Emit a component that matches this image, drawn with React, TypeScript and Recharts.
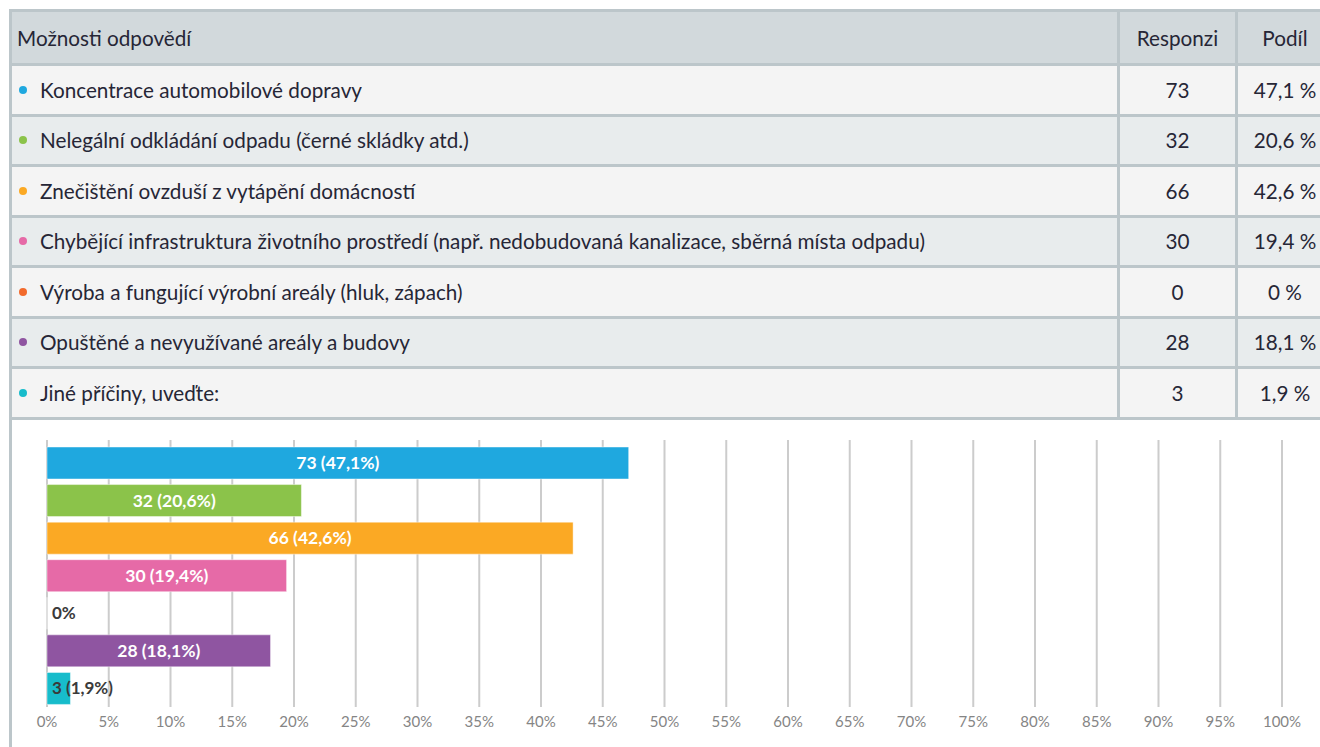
import React from 'react';
import { BarChart, Bar, XAxis, YAxis, CartesianGrid, LabelList, Cell } from 'recharts';

const answers = [
  'Koncentrace automobilové dopravy',
  'Nelegální odkládání odpadu (černé skládky atd.)',
  'Znečištění ovzduší z vytápění domácností',
  'Chybějící infrastruktura životního prostředí (např. nedobudovaná kanalizace, sběrná místa odpadu)',
  'Výroba a fungující výrobní areály (hluk, zápach)',
  'Opuštěné a nevyužívané areály a budovy',
  'Jiné příčiny, uveďte:',
];
const counts = [73, 32, 66, 30, 0, 28, 3];
const shares = [47.1, 20.6, 42.6, 19.4, 0, 18.1, 1.9];
const colors = ['#1fa8df', '#8bc34a', '#fba924', '#e66aa7', '#f26a2c', '#8f55a1', '#17bccb'];
const xTicks = [0, 5, 10, 15, 20, 25, 30, 35, 40, 45, 50, 55, 60, 65, 70, 75, 80, 85, 90, 95, 100];
const yMarks = [0.45, 3, 5.55];

const FONT = 'Lato, "Noto Sans", sans-serif';
const BORDER = '#bcc6ca';
const TEXT = '#262636';

const fmt = (v: number) => v.toFixed(1).replace('.', ',').replace(',0', '');

const data = answers.map((name, i) => ({
  name,
  share: shares[i],
  count: counts[i],
  color: colors[i],
  label: counts[i] === 0 ? '0%' : `${counts[i]} (${fmt(shares[i])}%)`,
}));

const BarLabel = (props: any) => {
  const { x, y, width, height, value } = props;
  const cy = y + height / 2;
  if (width < 95) {
    return (
      <text x={x + 5} y={cy} dy={6} fontSize={17} fontWeight={700} fill="#3a3a3a" fontFamily={FONT}>
        {value}
      </text>
    );
  }
  return (
    <text x={x + width / 2} y={cy} dy={6} textAnchor="middle" fontSize={17.5} fontWeight={700} fill="#fff" fontFamily={FONT}>
      {value}
    </text>
  );
};

const cell: React.CSSProperties = {
  display: 'flex',
  alignItems: 'center',
  boxSizing: 'border-box',
};

export default function App() {
  return (
    <div
      style={{
        position: 'absolute',
        left: 0,
        top: 0,
        width: 1320,
        height: 747,
        overflow: 'hidden',
        background: '#fff',
        fontFamily: FONT,
        color: TEXT,
      }}
    >
      <div
        style={{
          position: 'absolute',
          left: 9,
          top: 9,
          width: 1340,
          borderLeft: `3px solid ${BORDER}`,
          borderTop: `3px solid ${BORDER}`,
        }}
      >
        <div style={{ display: 'flex', height: 51, background: '#d2d9dc', borderBottom: `3px solid ${BORDER}`, fontSize: 20.7 }}>
          <div style={{ ...cell, width: 1105, paddingLeft: 5 }}>Možnosti odpovědí</div>
          <div style={{ ...cell, width: 118, borderLeft: `3px solid ${BORDER}`, justifyContent: 'center' }}>Responzi</div>
          <div style={{ ...cell, width: 97, borderLeft: `3px solid ${BORDER}`, justifyContent: 'center' }}>Podíl</div>
        </div>
        {data.map((d, i) => (
          <div
            key={d.name}
            style={{
              display: 'flex',
              height: 50.5,
              boxSizing: 'border-box',
              background: i % 2 === 0 ? '#f4f4f4' : '#e8eced',
              borderBottom: `3px solid ${BORDER}`,
              fontSize: 20.7,
            }}
          >
            <div style={{ ...cell, width: 1105, paddingLeft: 7 }}>
              <span
                style={{
                  display: 'inline-block',
                  width: 8,
                  height: 8,
                  borderRadius: 4,
                  background: d.color,
                  marginRight: 13,
                }}
              />
              {d.name}
            </div>
            <div style={{ ...cell, width: 118, borderLeft: `3px solid ${BORDER}`, justifyContent: 'center' }}>{d.count}</div>
            <div style={{ ...cell, width: 97, borderLeft: `3px solid ${BORDER}`, justifyContent: 'center' }}>
              {fmt(d.share)} %
            </div>
          </div>
        ))}
        <div style={{ height: 340, background: '#fff' }} />
      </div>

      <div style={{ position: 'absolute', left: 0, top: 420 }}>
        <BarChart
          layout="vertical"
          width={1320}
          height={327}
          data={data}
          margin={{ top: 20, right: 38, left: 45, bottom: 10 }}
          barSize={32}
        >
          <CartesianGrid horizontal={false} vertical stroke="#cccccc" strokeWidth={2} />
          <XAxis
            type="number"
            dataKey="share"
            domain={[0, 100]}
            ticks={xTicks}
            tickFormatter={(v: number) => `${v}%`}
            axisLine={false}
            tickLine={false}
            tickSize={0}
            tickMargin={9}
            height={30}
            tick={{ fontSize: 15, fill: '#858585', fontFamily: FONT }}
            interval={0}
          />
          <YAxis type="category" dataKey="name" hide padding={{ top: 4, bottom: 0 }} />
          <YAxis
            yAxisId="marks"
            type="number"
            domain={[0, 7]}
            reversed
            ticks={yMarks}
            tickFormatter={() => ''}
            tick={{ fontSize: 1 }}
            tickSize={5}
            axisLine={false}
            tickLine={{ stroke: '#c8c8c8' }}
            width={2}
          />
          <Bar dataKey="share" isAnimationActive={false} minPointSize={0.001} stroke="rgba(255,255,255,0.45)" strokeWidth={1}>
            {data.map((d) => (
              <Cell key={d.name} fill={d.color} />
            ))}
            <LabelList dataKey="label" content={BarLabel} />
          </Bar>
        </BarChart>
      </div>
    </div>
  );
}
